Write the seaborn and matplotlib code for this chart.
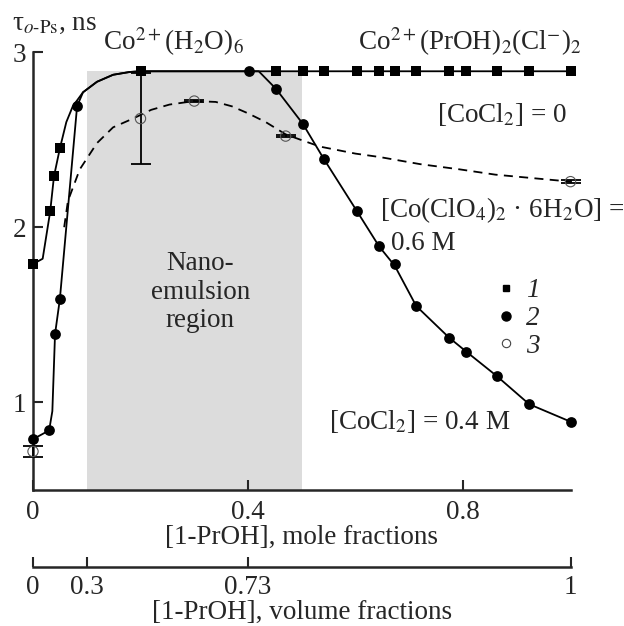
import numpy as np
import pandas as pd
import matplotlib
matplotlib.use("Agg")
import matplotlib.pyplot as plt
from matplotlib.lines import Line2D
import seaborn as sns

# ---------------- data ----------------
# series 1: [CoCl2] = 0 (squares)
x1 = [0, 0.032, 0.039, 0.05, 0.2, 0.452, 0.502, 0.541, 0.603, 0.644, 0.673,
      0.713, 0.774, 0.806, 0.863, 0.923, 1.0]
y1 = [1.79, 2.09, 2.29, 2.45, 2.89, 2.89, 2.89, 2.89, 2.89, 2.89, 2.89,
      2.89, 2.89, 2.89, 2.89, 2.89, 2.89]
x1_curve = [0, 0.018, 0.032, 0.039, 0.05, 0.062, 0.074, 0.093, 0.119, 0.149, 0.18, 0.2, 1.0]
y1_curve = [1.79, 1.82, 2.09, 2.29, 2.45, 2.60, 2.69, 2.77, 2.83, 2.87, 2.886, 2.89, 2.89]

# series 2: [CoCl2] = 0.4 M (filled circles)
x2 = [0, 0.03, 0.041, 0.05, 0.082, 0.402, 0.452, 0.502, 0.541, 0.603, 0.644,
      0.673, 0.713, 0.774, 0.806, 0.863, 0.923, 1.0]
y2 = [0.79, 0.84, 1.39, 1.59, 2.69, 2.89, 2.79, 2.59, 2.39, 2.09, 1.89,
      1.79, 1.55, 1.37, 1.29, 1.15, 0.99, 0.89]
x2_curve = [0, 0.03, 0.036, 0.041, 0.05, 0.082, 0.093, 0.119, 0.149, 0.18, 0.2, 0.42,
            0.452, 0.502, 0.541, 0.603, 0.644, 0.673, 0.713, 0.774, 0.806, 0.863, 0.923, 1.0]
y2_curve = [0.79, 0.84, 0.95, 1.39, 1.59, 2.69, 2.77, 2.83, 2.87, 2.886, 2.89, 2.89,
            2.79, 2.59, 2.39, 2.09, 1.89, 1.78, 1.55, 1.37, 1.29, 1.15, 0.99, 0.89]

# series 3: [Co(ClO4)2*6H2O] = 0.6 M (open circles)
x3 = [0, 0.2, 0.3, 0.47, 1.0]
y3 = [0.72, 2.62, 2.72, 2.52, 2.26]
y3_err = [0.03, 0.26, 0.005, 0.005, 0.01]
x3_curve = [0.058, 0.065, 0.087, 0.119, 0.149, 0.186, 0.22, 0.254, 0.3, 0.34, 0.37, 0.40,
            0.433, 0.47, 0.497, 0.534, 0.6, 0.646, 0.72, 0.794, 0.86, 0.93, 1.0]
y3_curve = [2.00, 2.15, 2.33, 2.48, 2.57, 2.62, 2.67, 2.70, 2.72, 2.715, 2.69, 2.65,
            2.60, 2.53, 2.50, 2.46, 2.42, 2.40, 2.36, 2.33, 2.30, 2.28, 2.26]

# nano-emulsion region (mole fractions) and its top
region_x = [0.1, 0.5]
region_top = 2.89

mole_ticks = [0, 0.4, 0.8]
mole_labels = ["0", "0.4", "0.8"]
vol_ticks = [0, 0.1, 0.4, 1.0]
vol_labels = ["0", "0.3", "0.73", "1"]
y_ticks = [1, 2, 3]
y_labels = ["1", "2", "3"]

# ---------------- style ----------------
sns.set_style("ticks")
plt.rcParams["font.family"] = ["Liberation Serif", "DejaVu Serif"]
plt.rcParams["mathtext.fontset"] = "stix"
FS = 19.5

fig = plt.figure(figsize=(6.24, 6.26), dpi=100)
W, H = 624, 626
left, right, top, bottom = 33, 570.5, 52, 490
ax = fig.add_axes([left / W, (H - bottom) / H, (right - left) / W, (bottom - top) / H])
ax.set_xlim(0, 1.0)
ax.set_ylim(0.5, 3.0)

ax.fill_between(region_x, 0.5, region_top, color="#dcdcdc", lw=0, zorder=0)

df1 = pd.DataFrame({"x": x1_curve, "y": y1_curve})
df2 = pd.DataFrame({"x": x2_curve, "y": y2_curve})
df3 = pd.DataFrame({"x": x3_curve, "y": y3_curve})
sns.lineplot(data=df1, x="x", y="y", ax=ax, color="black", lw=1.3, sort=False,
             estimator=None, zorder=2, clip_on=False)
sns.lineplot(data=df2, x="x", y="y", ax=ax, color="black", lw=1.3, sort=False,
             estimator=None, zorder=2, clip_on=False)
sns.lineplot(data=df3, x="x", y="y", ax=ax, color="black", lw=1.3, sort=False,
             estimator=None, zorder=2, clip_on=False, linestyle=(0, (5, 3.5)))

ax.errorbar(x3, y3, yerr=y3_err, fmt="none", ecolor="black", elinewidth=1.3,
            capsize=7, capthick=1.3, zorder=3, clip_on=False)

sns.scatterplot(x=x1, y=y1, ax=ax, marker="s", s=42, color="black", edgecolor="black",
                linewidth=0, zorder=4, clip_on=False)
sns.scatterplot(x=x2, y=y2, ax=ax, marker="o", s=60, color="black", edgecolor="black",
                linewidth=0, zorder=5, clip_on=False)
sns.scatterplot(x=x3, y=y3, ax=ax, marker="o", s=55, facecolor="none", edgecolor="#555555",
                linewidth=0.8, zorder=5, clip_on=False)

# axes styling
for s in ["top", "right"]:
    ax.spines[s].set_visible(False)
for s in ["left", "bottom"]:
    ax.spines[s].set_linewidth(1.8)
ax.set_xticks(mole_ticks)
ax.set_xticklabels(mole_labels)
ax.set_yticks(y_ticks)
ax.set_yticklabels(y_labels)
ax.tick_params(axis="both", direction="in", length=7, width=1.5, labelsize=FS)
ax.tick_params(axis="x", pad=7)
ax.tick_params(axis="y", pad=5)
ax.set_xlabel("[1-PrOH], mole fractions", fontsize=FS, labelpad=0)
ax.set_ylabel("")

# second axis: volume fractions
vpos = 567
ax2 = fig.add_axes([left / W, (H - vpos) / H, (right - left) / W, 0.0001])
ax2.set_xlim(0, 1.0)
ax2.set_yticks([])
for s in ["top", "right", "left"]:
    ax2.spines[s].set_visible(False)
ax2.spines["bottom"].set_linewidth(1.8)
ax2.patch.set_visible(False)
ax2.set_xticks(vol_ticks)
ax2.set_xticklabels(vol_labels)
ax2.tick_params(axis="x", direction="in", length=7, width=1.5, labelsize=FS, pad=6)
ax2.set_xlabel("[1-PrOH], volume fractions", fontsize=FS, labelpad=0)

# texts
fig.text(12 / W, (H - 30) / H, r"τ$_{o\text{-}\mathrm{Ps}}$, ns", fontsize=FS,
         ha="left", va="baseline")
ax.text(0.130, 3.011, r"Co$^{2+}$(H$_2$O)$_6$", fontsize=FS, ha="left", va="baseline")
ax.text(0.605, 3.011, r"Co$^{2+}$(PrOH)$_2$(Cl$^{-}$)$_2$", fontsize=FS, ha="left", va="baseline")
ax.text(0.752, 2.60, r"[CoCl$_2$] = 0", fontsize=FS, ha="left", va="baseline")
ax.text(0.646, 2.057, r"[Co(ClO$_4$)$_2$ · 6H$_2$O] =", fontsize=FS, ha="left", va="baseline")
ax.text(0.666, 1.869, "0.6 M", fontsize=FS, ha="left", va="baseline")
ax.text(0.311, 1.754, "Nano-", fontsize=FS, ha="center", va="baseline")
ax.text(0.311, 1.589, "emulsion", fontsize=FS, ha="center", va="baseline")
ax.text(0.311, 1.43, "region", fontsize=FS, ha="center", va="baseline")
ax.text(0.551, 0.851, r"[CoCl$_2$] = 0.4 M", fontsize=FS, ha="left", va="baseline")

handles = [
    Line2D([], [], marker="s", color="black", ls="none", ms=5),
    Line2D([], [], marker="o", color="black", ls="none", ms=6.5),
    Line2D([], [], marker="o", mfc="white", mec="#444444", mew=0.8, ls="none", ms=6),
]
ax.legend(handles, ["1", "2", "3"], loc="upper left", bbox_to_anchor=(0.869, 0.483),
          frameon=False, handlelength=0.45, handletextpad=0.5, labelspacing=0.1,
          borderpad=0, borderaxespad=0, prop={"style": "italic", "size": FS})

fig.savefig("out.png", dpi=100)
